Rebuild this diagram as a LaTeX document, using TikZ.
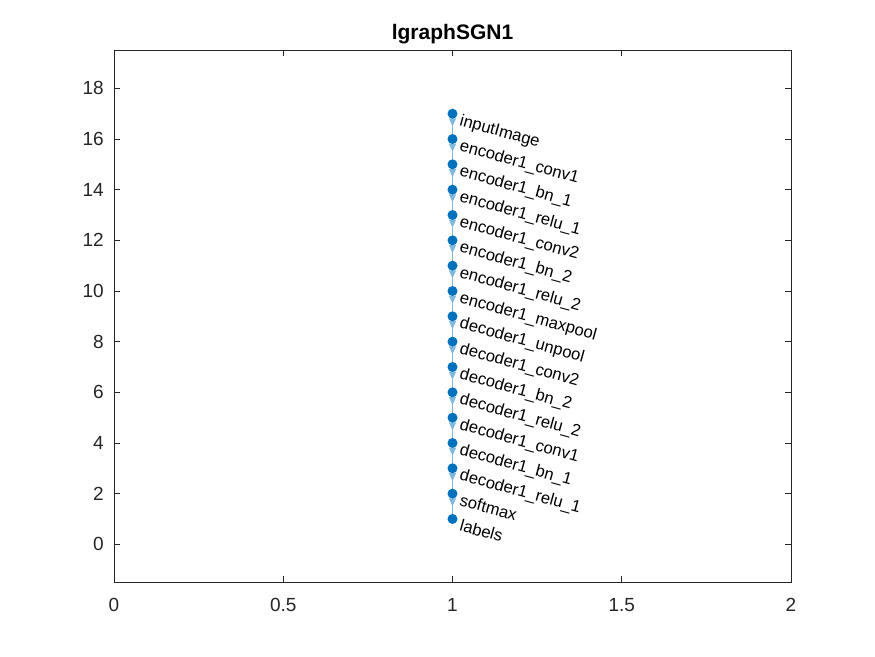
\documentclass[tikz,border=0pt]{standalone}
\usepackage{fontspec}
\setmainfont{Liberation Sans}
\usetikzlibrary{arrows.meta,decorations.markings}
\definecolor{axgray}{RGB}{38,38,38}
\definecolor{nodeblue}{RGB}{0,114,189}
\definecolor{edgeblue}{RGB}{128,185,222}
\tikzset{
  axisline/.style={draw=axgray, line width=0.9pt},
  ticklab/.style={font=\fontsize{19}{22}\selectfont, text=axgray, inner sep=0pt},
  gnode/.style={circle, fill=nodeblue, inner sep=0pt, minimum size=10pt},
  glabel/.style={font=\fontsize{16.6}{19}\selectfont, inner sep=0pt, rotate=-15.5, anchor=mid west},
  gedge/.style={draw=edgeblue, line width=1pt, postaction={decorate},
    decoration={markings, mark=at position 0.5 with {\arrow[edgeblue]{Triangle[width=7pt,length=8pt]}}}},
  titlelab/.style={font=\bfseries\fontsize{21}{24}\selectfont, text=black, inner sep=0pt}
}
\begin{document}
\begin{tikzpicture}[x=338.5pt, y=25.33pt]
\useasboundingbox[fill=white] (-114pt,-111.7pt) rectangle (761pt,544.3pt);
% axes box
\draw[axisline] (0,-1.5) rectangle (2,19.5);
% x ticks
\foreach \xv/\xl in {0/0,0.5/0.5,1/1,1.5/1.5,2/2} {
  \draw[axisline] (\xv,-1.5) -- ++(0,6pt);
  \draw[axisline] (\xv,19.5) -- ++(0,-6pt);
  \node[ticklab] (xt\xl) at ([yshift=-22.5pt]\xv,-1.5) {\xl};
}
% y ticks
\foreach \yv in {0,2,...,18} {
  \draw[axisline] (0,\yv) -- ++(6pt,0);
  \draw[axisline] (2,\yv) -- ++(-6pt,0);
  \node[ticklab, anchor=east] (yt\yv) at ([xshift=-10pt]0,\yv) {\yv};
}
\node[titlelab] (title) at ([yshift=510pt]1,0) {lgraphSGN1};
% graph nodes
\foreach \i in {17,16,...,1} {
  \coordinate (n\i) at (1,\i);
}
\foreach \i [evaluate=\i as \j using int(\i-1)] in {17,16,...,2} {
  \path[gedge] (n\i) -- (n\j);
}
\foreach \i/\lab in {17/inputImage,16/encoder1\_conv1,15/encoder1\_bn\_1,14/encoder1\_relu\_1,13/encoder1\_conv2,12/encoder1\_bn\_2,11/encoder1\_relu\_2,10/encoder1\_maxpool,9/decoder1\_unpool,8/decoder1\_conv2,7/decoder1\_bn\_2,6/decoder1\_relu\_2,5/decoder1\_conv1,4/decoder1\_bn\_1,3/decoder1\_relu\_1,2/softmax,1/labels} {
  \node[gnode] (g\i) at (n\i) {};
  \node[glabel] (l\i) at ([xshift=7pt,yshift=-9pt]n\i) {\lab};
}
\end{tikzpicture}
\end{document}
